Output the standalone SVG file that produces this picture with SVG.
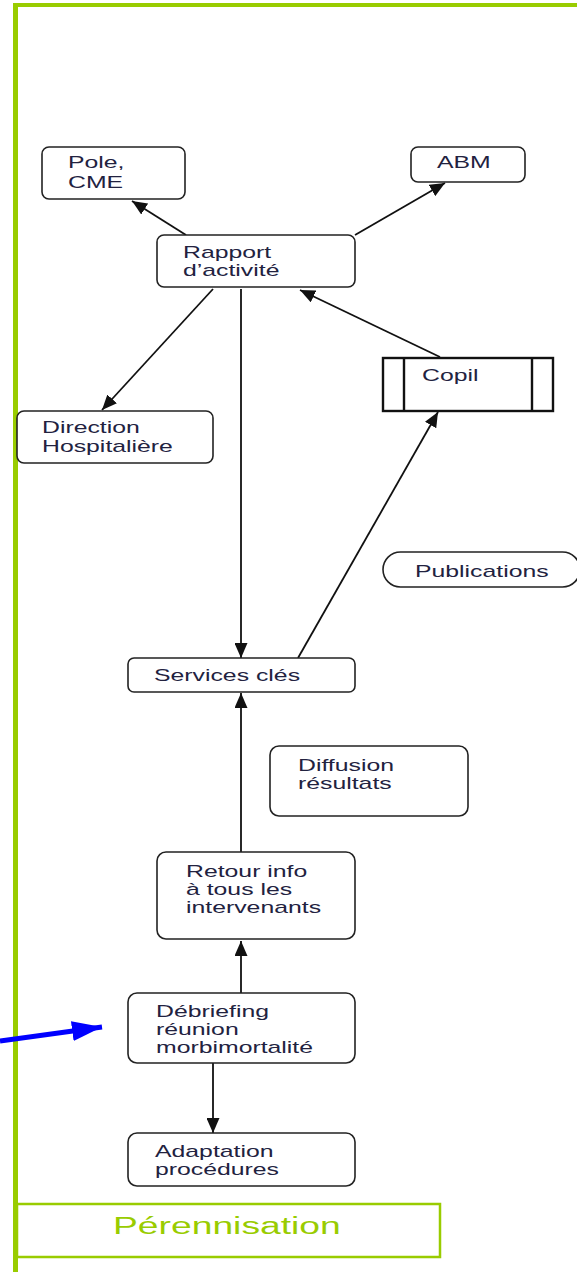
<svg xmlns="http://www.w3.org/2000/svg" width="577" height="1272" viewBox="0 0 577 1272">
<defs>
<style>
.box{fill:#fff;stroke:#222;stroke-width:1.6}
.cop{fill:#fff;stroke:#111;stroke-width:2.4}
.t{font-family:"Liberation Sans",Arial,sans-serif;font-size:16px;fill:#22223f}
.e{stroke:#111;stroke-width:1.8;fill:none;marker-end:url(#ah)}
.g{fill:#99cc00}
</style>
<marker id="ah" markerUnits="userSpaceOnUse" markerWidth="15" markerHeight="13" refX="15" refY="6.5" orient="auto">
<path d="M0,0 L15,6.5 L0,13 z" fill="#111"/>
</marker>
<marker id="bh" markerUnits="userSpaceOnUse" markerWidth="30" markerHeight="20" refX="30" refY="10" orient="auto">
<path d="M0,0 L30,10 L0,20 z" fill="#0000ff"/>
</marker>
</defs>
<rect width="577" height="1272" fill="#fff"/>
<g id="frame">
<rect class="g" x="13" y="3" width="564" height="4"/>
<rect class="g" x="13" y="3" width="5" height="1269"/>
</g>
<g id="connectors">
<line class="e" x1="186" y1="235" x2="132" y2="201"/>
<line class="e" x1="355" y1="235" x2="445" y2="183"/>
<line class="e" x1="213" y1="289" x2="102" y2="410"/>
<line class="e" x1="241" y1="289" x2="241" y2="658"/>
<line class="e" x1="440" y1="357" x2="300" y2="290"/>
<line class="e" x1="298" y1="658" x2="438" y2="412"/>
<line class="e" x1="241" y1="852" x2="241" y2="693"/>
<line class="e" x1="241" y1="993" x2="241" y2="941"/>
<line class="e" x1="213" y1="1063" x2="213" y2="1133"/>
<line x1="0" y1="1041" x2="102" y2="1027" stroke="#0000ff" stroke-width="5" marker-end="url(#bh)"/>
</g>
<g id="pole">
<rect class="box" x="42" y="147" width="143" height="52" rx="7"/>
<text class="t" transform="translate(68 168) scale(1.55 1)">Pole,</text>
<text class="t" transform="translate(68 188) scale(1.55 1)">CME</text>
</g>
<g id="abm">
<rect class="box" x="411" y="147" width="114" height="35" rx="7"/>
<text class="t" transform="translate(437 168) scale(1.55 1)">ABM</text>
</g>
<g id="rapport">
<rect class="box" x="157" y="235" width="198" height="52" rx="7"/>
<text class="t" transform="translate(183 258) scale(1.55 1)">Rapport</text>
<text class="t" transform="translate(183 276) scale(1.55 1)">d’activité</text>
</g>
<g id="direction">
<rect class="box" x="17" y="411" width="196" height="52" rx="7"/>
<text class="t" transform="translate(42 433) scale(1.55 1)">Direction</text>
<text class="t" transform="translate(42 452) scale(1.55 1)">Hospitalière</text>
</g>
<g id="copil">
<rect class="cop" x="383" y="358" width="170" height="53"/>
<line class="cop" x1="404" y1="358" x2="404" y2="411"/>
<line class="cop" x1="532" y1="358" x2="532" y2="411"/>
<text class="t" transform="translate(422 381) scale(1.55 1)">Copil</text>
</g>
<g id="publications">
<rect class="box" x="383" y="552" width="197" height="35" rx="17.5"/>
<text class="t" transform="translate(415 577) scale(1.55 1)">Publications</text>
</g>
<g id="services">
<rect class="box" x="128" y="658" width="227" height="34" rx="6"/>
<text class="t" transform="translate(154 681) scale(1.55 1)">Services clés</text>
</g>
<g id="diffusion">
<rect class="box" x="270" y="746" width="198" height="70" rx="9"/>
<text class="t" transform="translate(298 771) scale(1.55 1)">Diffusion</text>
<text class="t" transform="translate(298 789) scale(1.55 1)">résultats</text>
</g>
<g id="retour">
<rect class="box" x="157" y="852" width="198" height="87" rx="9"/>
<text class="t" transform="translate(186 877) scale(1.55 1)">Retour info</text>
<text class="t" transform="translate(186 895) scale(1.55 1)">à tous les</text>
<text class="t" transform="translate(186 913) scale(1.55 1)">intervenants</text>
</g>
<g id="debriefing">
<rect class="box" x="128" y="993" width="227" height="70" rx="9"/>
<text class="t" transform="translate(156 1017) scale(1.55 1)">Débriefing</text>
<text class="t" transform="translate(156 1035) scale(1.55 1)">réunion</text>
<text class="t" transform="translate(156 1053) scale(1.55 1)">morbimortalité</text>
</g>
<g id="adaptation">
<rect class="box" x="128" y="1133" width="227" height="53" rx="9"/>
<text class="t" transform="translate(155 1157) scale(1.55 1)">Adaptation</text>
<text class="t" transform="translate(155 1175) scale(1.55 1)">procédures</text>
</g>
<g id="perennisation">
<rect x="17" y="1204" width="423" height="53" fill="#fff" stroke="#99cc00" stroke-width="2.5"/>
<text transform="translate(113 1234) scale(1.62 1)" style="font-family:'Liberation Sans',Arial,sans-serif;font-size:23px;fill:#99cc00">Pérennisation</text>
</g>
</svg>
